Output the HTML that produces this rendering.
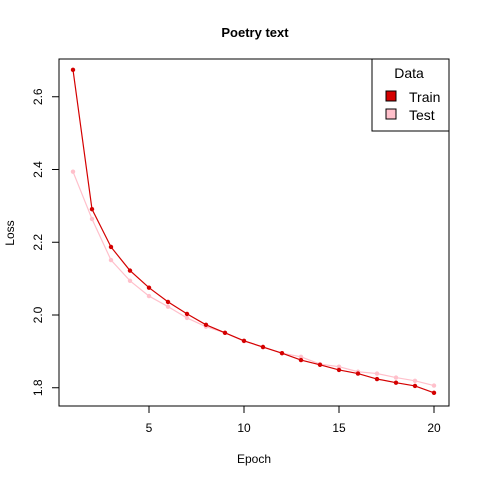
<!DOCTYPE html>
<html><head><meta charset="utf-8"><style>body{margin:0;background:#fff}svg{font-family:"Liberation Sans",Arial,sans-serif}</style></head>
<body>
<svg id="c" width="480" height="480" xmlns="http://www.w3.org/2000/svg">
<text x="255" y="37" text-anchor="middle" font-size="13" font-weight="bold">Poetry text</text>
<rect x="59" y="59" width="390" height="347" fill="none" stroke="#000"/>
<text x="254" y="463" text-anchor="middle" font-size="12">Epoch</text>
<text x="14" y="233" text-anchor="middle" font-size="12" transform="rotate(-90 14 233)">Loss</text>
<g id="ax"></g><g id="marks"></g>
<g>
<rect x="372" y="59" width="77" height="72" fill="#fff" stroke="#000"/>
<text x="409" y="78" text-anchor="middle" font-size="14">Data</text>
<rect x="386" y="91" width="10" height="10" fill="#d40000" stroke="#000"/>
<text x="409" y="102" font-size="14">Train</text>
<rect x="386" y="109" width="10" height="10" fill="#ffc0cb" stroke="#000"/>
<text x="409" y="120" font-size="14">Test</text>
</g>
</svg>
<script>
const epochs=[1,2,3,4,5,6,7,8,9,10,11,12,13,14,15,16,17,18,19,20];
const train=[2.674,2.291,2.187,2.122,2.075,2.036,2.003,1.973,1.951,1.929,1.912,1.895,1.876,1.863,1.849,1.839,1.824,1.814,1.805,1.786];
const test=[2.394,2.264,2.151,2.094,2.052,2.023,1.992,1.968,1.951,1.928,1.912,1.895,1.885,1.865,1.858,1.844,1.839,1.828,1.819,1.806];
const xTicks=[5,10,15,20];
const yTicks=[1.8,2.0,2.2,2.4,2.6];
const yTickLabels=["1.8","2.0","2.2","2.4","2.6"];
const X=e=>73+(e-1)*19, Y=v=>315-(v-2.0)*363.75;
const NS="http://www.w3.org/2000/svg";
function mk(t,a,p){const el=document.createElementNS(NS,t);for(const k in a)el.setAttribute(k,a[k]);p.appendChild(el);return el;}
const ax=document.getElementById('ax'),mg=document.getElementById('marks');
xTicks.forEach(t=>{
 const l=mk('line',{x1:X(t),x2:X(t),y1:406,y2:413,stroke:'#000'},ax);
 
 
 const tx=mk('text',{x:X(t),y:432,'text-anchor':'middle','font-size':12},ax);tx.textContent=t;
 
 
});
yTicks.forEach((t,i)=>{
 const l=mk('line',{x1:52,x2:59,y1:Y(t),y2:Y(t),stroke:'#000'},ax);
 
 
 const tx=mk('text',{x:42,y:Y(t),'text-anchor':'middle','font-size':12,transform:`rotate(-90 42 ${Y(t)})`},ax);tx.textContent=yTickLabels[i];
 
 
});
function series(vals,col,name){
 const p=mk('polyline',{points:vals.map((v,i)=>X(epochs[i])+','+Y(v)).join(' '),fill:'none',stroke:col,'stroke-width':1.2},mg);
 
 
 vals.forEach((v,i)=>{const c=mk('circle',{cx:X(epochs[i]),cy:Y(v),r:2.2,fill:col},mg);
 
 });
}
series(test,'#ffc0cb','test');
series(train,'#d40000','train');
</script>
</body></html>
